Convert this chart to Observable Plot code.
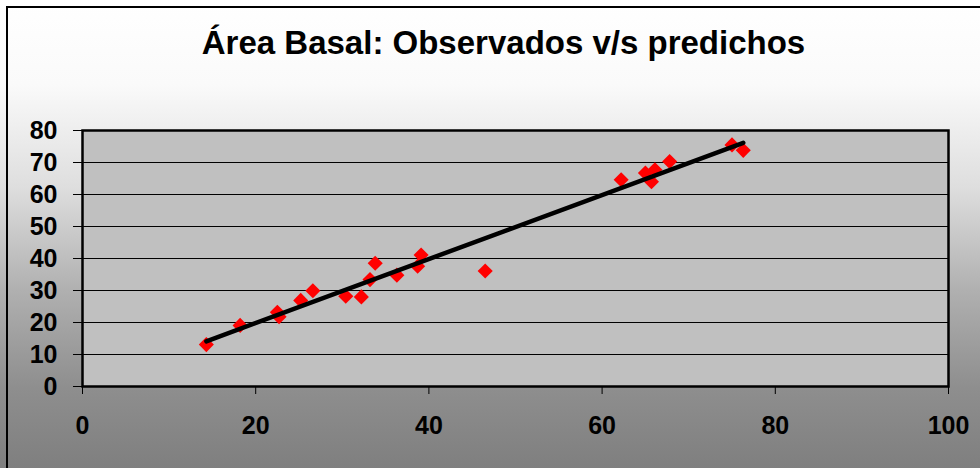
<!DOCTYPE html>
<html><head><meta charset="utf-8">
<script src="https://cdn.jsdelivr.net/npm/d3@7"></script>
<script src="https://cdn.jsdelivr.net/npm/@observablehq/plot@0.6"></script>
<style>
html,body{margin:0;padding:0;background:#fff;}
#chart{position:relative;width:980px;height:468px;overflow:hidden;
  background:linear-gradient(to bottom,#ffffff 0%,#fafafa 18%,#dedede 40%,#b0b0b0 62%,#8e8e8e 83%,#7f7f7f 100%);
  font-family:Arial,"Liberation Sans",sans-serif;}
#frame{position:absolute;left:6px;top:6px;width:1000px;height:500px;border:2px solid #000;box-sizing:border-box;}
#title{position:absolute;left:0;top:27px;width:1007px;text-align:center;font-size:33px;line-height:32px;font-weight:bold;color:#000;}
#plot{position:absolute;left:0;top:0;}
</style>
</head><body>
<div id="chart"><div id="frame"></div><div id="title">Área Basal: Observados v/s predichos</div><div id="plot"></div></div>
<script>
const observados = [14.3, 18.2, 22.5, 22.7, 25.2, 26.6, 30.4, 32.2, 33.2, 33.8, 36.3, 38.7, 39.1, 46.5, 62.2, 65.0, 65.7, 66.1, 67.8, 75.0, 76.3];
const predichos  = [13.1, 19.1, 23.2, 21.8, 26.9, 29.9, 28.2, 28.0, 33.4, 38.5, 34.8, 37.6, 41.1, 36.1, 64.6, 66.7, 64.0, 67.7, 70.3, 75.5, 73.8];
const xTicks = [0, 20, 40, 60, 80, 100];
const yTicks = [0, 10, 20, 30, 40, 50, 60, 70, 80];

const data = observados.map((x, i) => ({x, y: predichos[i]}));

const plot = Plot.plot({
  width: 980, height: 468,
  marginLeft: 82, marginRight: 32, marginTop: 130, marginBottom: 82,
  style: {background: "transparent", fontFamily: "Arial, 'Liberation Sans', sans-serif", fontSize: "25px", fontWeight: "bold", color: "#000", overflow: "visible"},
  x: {domain: [0, 100]},
  y: {domain: [0, 80]},
  marks: [
    Plot.frame({fill: "#c0c0c0"}),
    Plot.gridY(yTicks, {stroke: "#000", strokeOpacity: 1, strokeWidth: 1}),
    Plot.axisY(yTicks, {tickSize: 9, tickPadding: 16, label: null}),
    Plot.axisX(xTicks, {tickSize: 8, tickPadding: 22, label: null}),
    Plot.dot(data, {x: "x", y: "y", symbol: "diamond2", r: 6.8, fill: "#ff0000", stroke: null}),
    Plot.linearRegressionY(data, {x: "x", y: "y", ci: 0, stroke: "#000", strokeWidth: 4.5, strokeLinecap: "round"}),
    Plot.frame({stroke: "#000", strokeWidth: 2.5})
  ]
});
document.getElementById("plot").appendChild(plot);
</script>
</body></html>
